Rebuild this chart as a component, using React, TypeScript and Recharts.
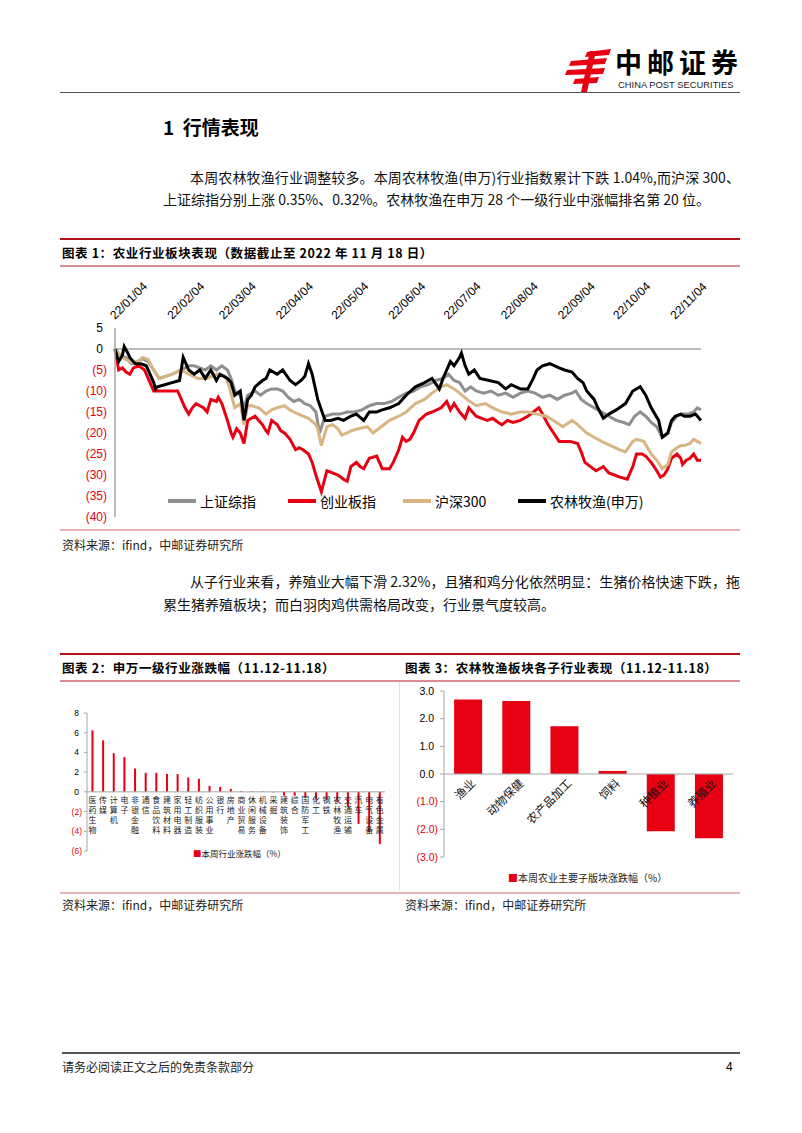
import React from "react"
import {
  LineChart,
  Line,
  XAxis,
  YAxis,
  ReferenceLine,
  BarChart,
  Bar,
  LabelList,
} from "recharts"

const RED = "#e60012"
const GRAY = "#8f8f8f"
const TAN = "#d9b584"
const AXIS = "#a6a6a6"
const SANS = "'Liberation Sans', Arial, sans-serif"
const CJK = "'Noto Sans CJK SC', sans-serif"

// ---- 图表1: 农业行业板块表现 ----
const DATE_TICKS = [
  "22/01/04", "22/02/04", "22/03/04", "22/04/04", "22/05/04", "22/06/04",
  "22/07/04", "22/08/04", "22/09/04", "22/10/04", "22/11/04",
]
const LAST_DAY = "22/11/18"
const Y1_TICKS = [5, 0, -5, -10, -15, -20, -25, -30, -35, -40]
const SERIES_NAMES = ["上证综指", "创业板指", "沪深300", "农林牧渔(申万)"]
const SERIES_COLORS = [GRAY, RED, TAN, "#000000"]

// [距 22/01/04 天数, 累计涨跌幅 %]
const SH_COMPOSITE: [number, number][] = [
  [0, 0], [3, -1.5], [6, -2], [9, -3.5], [12, -3], [15, -2.3], [18, -3], [21, -5], [24, -7],
  [31, -6], [36, -5], [40, -4], [43, -4], [46, -4.5], [49, -5], [52, -4], [55, -5], [58, -4],
  [61, -5], [63, -7], [65, -10], [68, -11], [70, -14], [72, -11], [76, -10], [79, -11],
  [82, -10], [85, -9.5], [88, -9.5], [91, -10], [94, -11.5], [97, -12.5], [100, -12],
  [103, -13], [106, -13.5], [109, -15], [111, -20], [114, -16], [118, -15.5], [122, -15.5],
  [126, -15], [130, -15], [134, -14.5], [138, -13.5], [142, -13], [146, -13], [150, -12.5],
  [154, -11.5], [158, -10.5], [162, -10], [166, -9], [170, -8.5], [174, -7.5], [178, -7],
  [181, -6], [184, -7.5], [187, -8], [190, -10], [193, -9], [196, -10], [200, -10.5],
  [204, -10], [208, -11], [212, -10.5], [216, -11.5], [220, -10.5], [224, -10], [228, -10.5],
  [232, -11.5], [236, -11], [240, -12], [244, -11], [248, -10.5], [250, -10], [253, -12],
  [256, -13], [260, -14], [264, -15], [268, -16], [272, -17], [276, -17.5], [279, -18],
  [282, -16], [285, -15], [288, -16], [291, -17.5], [294, -18.5], [297, -21], [300, -20],
  [302, -17.5], [305, -16], [308, -15.5], [311, -15.5], [314, -15], [316, -14], [318, -14.5],
]
const CHINEXT: [number, number][] = [
  [0, 0], [2, -5], [4, -4.5], [6, -5.5], [8, -6], [10, -4.5], [13, -4], [16, -5], [19, -8],
  [21, -10], [25, -10], [30, -10], [34, -10], [36, -12], [38, -14], [40, -15.5], [42, -14],
  [44, -13], [46, -13.5], [48, -14], [50, -15], [52, -12], [55, -12.5], [56, -11.5], [58, -13],
  [61, -17], [63, -20], [64, -21], [66, -19], [68, -20], [70, -22.5], [72, -17], [74, -16.5],
  [76, -16], [78, -17], [80, -18], [82, -19.5], [83, -20], [85, -17], [88, -18], [90, -19.5],
  [92, -20], [95, -21.5], [98, -24], [100, -23.5], [102, -24], [105, -25], [107, -27],
  [109, -30], [112, -34], [115, -29], [118, -29.5], [121, -30], [124, -31], [126, -31.5],
  [128, -28], [131, -27], [133, -28], [135, -28.5], [138, -26], [142, -25.5], [145, -28.5],
  [149, -28.5], [151, -27], [154, -24], [156, -21], [158, -22], [160, -21.5], [162, -20],
  [165, -17], [169, -15.5], [172, -15], [177, -14], [180, -12.5], [182, -14.5], [184, -13],
  [187, -15], [190, -16.5], [192, -14], [196, -16], [199, -16.5], [202, -17], [205, -16.5],
  [208, -17.5], [210, -18], [213, -17], [216, -17.5], [220, -17], [224, -16], [227, -15],
  [230, -14], [232, -15.5], [235, -18], [238, -20], [241, -22], [244, -22], [247, -22],
  [251, -22.5], [253, -24.5], [255, -27], [258, -28], [261, -29], [263, -28.5], [265, -28],
  [268, -29.5], [271, -30], [274, -30.5], [278, -31], [281, -28], [283, -25], [286, -25],
  [288, -25.5], [291, -27], [294, -29], [296, -30.5], [298, -30], [300, -28.5], [302, -26],
  [305, -25], [307, -26], [308, -27.5], [310, -26.5], [312, -26], [314, -25], [316, -26.5],
  [318, -26.5],
]
const CSI300: [number, number][] = [
  [0, 0], [4, -2], [8, -3], [11, -3.5], [15, -2], [18, -2.5], [21, -5], [24, -7], [31, -6],
  [36, -5], [40, -6], [45, -7], [50, -7], [55, -6], [60, -6.5], [62, -9], [65, -14], [68, -13],
  [70, -18], [72, -13.5], [74, -13.5], [78, -14], [82, -15.5], [85, -14.5], [88, -14],
  [92, -13.5], [95, -14.5], [97, -15], [102, -16], [105, -16.5], [109, -18], [110, -19],
  [112, -23], [115, -18.5], [118, -18], [121, -19], [123, -20.5], [126, -20], [128, -19.5],
  [132, -19], [137, -18.5], [140, -20], [143, -19], [149, -17], [154, -16], [158, -15],
  [163, -13], [168, -12], [172, -10.5], [177, -9], [180, -8.5], [184, -9.5], [187, -10.5],
  [191, -12], [196, -13.5], [201, -13], [205, -14], [210, -15], [215, -15.5], [220, -15],
  [224, -15], [229, -15.5], [234, -16], [238, -17], [243, -18.5], [248, -17], [251, -18],
  [256, -20], [260, -21], [264, -22], [269, -23], [274, -24], [277, -24.5], [281, -22],
  [283, -21.5], [287, -22], [291, -25], [294, -26.5], [297, -28.5], [300, -27.5], [302, -24.5],
  [305, -23.5], [307, -23], [309, -23], [312, -22.5], [314, -21.5], [316, -22], [318, -22.5],
]
const AGRI_SW: [number, number][] = [
  [0, 0], [2, -3], [4, -1.5], [5, 0.6], [7, -1], [8, -2], [11, -3.5], [14, -3.5], [17, -4],
  [19, -6], [21, -8], [22, -9.5], [23, -9], [27, -8.5], [31, -8], [35, -7.5], [37, -2],
  [40, -5], [43, -6], [46, -5], [49, -7], [52, -5], [55, -7.5], [57, -6], [61, -7], [63, -8],
  [65, -11], [68, -10], [70, -17], [72, -12], [74, -11], [76, -9], [80, -7.5], [82, -7],
  [84, -5], [88, -6], [91, -5], [95, -7.5], [98, -8.5], [101, -7.5], [103, -6.5], [105, -3.5],
  [107, -6], [110, -12], [114, -17], [117, -17], [121, -16.5], [124, -17], [128, -16],
  [131, -15.5], [135, -17], [138, -15], [142, -15], [145, -14.5], [149, -14], [154, -13],
  [158, -11], [163, -9], [168, -8], [172, -7], [176, -9.5], [178, -7], [180, -5], [182, -3],
  [184, -4], [187, -2], [188, -1], [190, -4], [192, -6], [195, -5], [198, -7], [203, -7.5],
  [208, -8], [212, -9.5], [215, -8.5], [220, -9.5], [224, -9.5], [227, -7], [229, -5],
  [232, -4], [236, -3.5], [241, -4.5], [244, -5], [248, -5.5], [251, -7], [254, -8],
  [256, -10], [260, -12], [262, -14], [265, -16.5], [268, -15.5], [272, -14.5], [277, -13],
  [281, -10], [285, -9], [288, -11], [291, -14], [295, -17], [297, -21], [300, -20],
  [302, -17], [304, -16], [307, -15.5], [309, -16], [312, -16], [315, -15.5], [318, -17],
]
const SERIES = [SH_COMPOSITE, CHINEXT, CSI300, AGRI_SW]

// ---- 图表2: 申万一级行业涨跌幅 ----
const SECTORS = [
  "医药生物", "传媒", "计算机", "电子", "非银金融", "通信", "食品饮料", "建筑材料",
  "家用电器", "轻工制造", "纺织服装", "公用事业", "银行", "房地产", "商业贸易", "休闲服务",
  "机械设备", "采掘", "建筑装饰", "综合", "国防军工", "化工", "钢铁", "农林牧渔",
  "交通运输", "汽车", "电气设备", "有色金属",
]
const SECTOR_CHG = [
  6.24, 5.22, 3.93, 3.53, 2.37, 1.93, 1.93, 1.83, 1.8, 1.46, 1.32, 0.61, 0.5, 0.3, 0.08,
  0.06, 0.05, -0.05, -0.37, -0.4, -0.55, -0.78, -0.8, -1.04, -1.55, -3.25, -4.1, -5.3,
]
const Y2_TICKS = [8, 6, 4, 2, 0, -2, -4, -6]

// ---- 图表3: 农林牧渔子行业表现 ----
const SUB_SECTORS = ["渔业", "动物保健", "农产品加工", "饲料", "种植业", "养殖业"]
const SUB_CHG = [2.69, 2.64, 1.73, 0.11, -2.07, -2.32]
const Y3_TICKS = [3, 2, 1, 0, -1, -2, -3]

const dayOf = (s: string) => {
  const [yy, mm, dd] = s.split("/").map(Number)
  return Math.round((Date.UTC(2000 + yy, mm - 1, dd) - Date.UTC(2022, 0, 4)) / 86400000)
}
const TICK_DAYS = DATE_TICKS.map(dayOf)

const DateTick = ({ x, y, payload }: any) => {
  const i = TICK_DAYS.indexOf(payload.value)
  return (
    <text x={x} y={y} transform={`rotate(-45 ${x} ${y})`} textAnchor="start"
      fontSize={12} fontFamily={SANS} fill="#000">
      {DATE_TICKS[i]}
    </text>
  )
}

const parenTick = (digits: number, size: number, padR: number) => ({ x, y, payload }: any) => {
  const v = payload.value
  const neg = v < 0
  const txt = neg ? `(${(-v).toFixed(digits)})` : v.toFixed(digits)
  return (
    <text x={neg ? x : x - padR} y={y} dy={size * 0.35} textAnchor="end" fontSize={size}
      fontFamily={SANS} fill={neg ? RED : "#000"}>
      {txt}
    </text>
  )
}
const Y1Tick = parenTick(0, 12, 4)
const Y2Tick = parenTick(0, 8.5, 3)
const Y3Tick = parenTick(1, 10.5, 4)

const zeroOf = (p: any, v: number) => {
  const top = Math.min(p.y, p.y + p.height)
  const bot = Math.max(p.y, p.y + p.height)
  return v >= 0 ? bot : top
}

const SectorLabel = (p: any) => {
  const v = SECTOR_CHG[p.index]
  const y0 = zeroOf(p, v)
  const cx = p.x + p.width / 2
  return (
    <g>
      {Array.from(SECTORS[p.index]).map((c, i) => (
        <text key={i} x={cx} y={y0 + 11 + i * 10} textAnchor="middle" fontSize={8}
          fontFamily={CJK} fill="#222">
          {c}
        </text>
      ))}
    </g>
  )
}

const SubLabel = (p: any) => {
  const v = SUB_CHG[p.index]
  const y0 = zeroOf(p, v)
  const ax = p.x + p.width / 2 + 8
  const ay = y0 + 10
  return (
    <text x={ax} y={ay} transform={`rotate(-45 ${ax} ${ay})`} textAnchor="end" fontSize={11.5}
      fontFamily={CJK} fill="#111">
      {SUB_SECTORS[p.index]}
    </text>
  )
}

const Logo = () => (
  <div style={{ position: "absolute", left: 563, top: 44 }}>
    <svg width={50} height={50} style={{ position: "absolute", left: 0, top: 2 }}>
      <g fill="#e60012">
        <polygon points="24,6 48,3 46,9 22,11" />
        <polygon points="8,15 44,12 42,18 6,20" />
        <polygon points="4,24 42,22 40,28 2,29" />
        <polygon points="12,33 36,31 34,37 10,38" />
        <polygon points="27,5 33,5 24,46 18,46" />
      </g>
    </svg>
    <div style={{ position: "absolute", left: 52, top: 2, fontSize: 27, fontWeight: 700,
      letterSpacing: 5, whiteSpace: "nowrap", fontFamily: CJK, lineHeight: "32px" }}>中邮证券</div>
    <div style={{ position: "absolute", left: 55, top: 35, fontSize: 9.4, whiteSpace: "nowrap",
      fontFamily: SANS, lineHeight: "12px", color: "#222" }}>CHINA POST SECURITIES</div>
  </div>
)

const abs = (left: number, top: number, extra: React.CSSProperties = {}): React.CSSProperties => ({
  position: "absolute", left, top, whiteSpace: "nowrap", ...extra,
})

const Rule = ({ top, color, h = 2, left = 60, width = 680 }: any) => (
  <div style={{ position: "absolute", left, top, width, height: h, background: color }} />
)

const Justified = ({ left, top, width, text }: any) => (
  <div style={{ position: "absolute", left, top, width, fontSize: 14, lineHeight: "20px",
    textAlign: "justify", textAlignLast: "justify", color: "#111" }}>{text}</div>
)

const legendItem = (name: string, color: string, left: number) => (
  <div key={name} style={abs(left, 492, { display: "flex", alignItems: "center", fontSize: 14,
    lineHeight: "18px", fontFamily: CJK })}>
    <span style={{ display: "inline-block", width: 28, height: 4, background: color, marginRight: 4 }} />
    {name}
  </div>
)

export default function App() {
  const lineData = SERIES.map((s) => s.map(([d, v]) => ({ d, v })))
  const sectorData = SECTORS.map((name, i) => ({ name, v: SECTOR_CHG[i] }))
  const subData = SUB_SECTORS.map((name, i) => ({ name, v: SUB_CHG[i] }))
  const titleStyle = { fontSize: 12.5, fontWeight: 700, lineHeight: "16px", fontFamily: CJK, letterSpacing: 0.6 }
  const srcStyle = { fontSize: 12, lineHeight: "16px", color: "#222", fontFamily: CJK }

  return (
    <div style={{ position: "absolute", left: 0, top: 0, width: 802, height: 1133,
      background: "#fff", overflow: "hidden", fontFamily: CJK, color: "#000" }}>
      <Logo />
      <Rule top={92} color="#555" h={1} />

      <div style={abs(163, 114, { fontSize: 19, fontWeight: 700, lineHeight: "26px" })}>1&nbsp;&nbsp;行情表现</div>
      <Justified left={190} top={167} width={550}
        text="本周农林牧渔行业调整较多。本周农林牧渔(申万)行业指数累计下跌 1.04%,而沪深 300、" />
      <div style={abs(163, 189, { fontSize: 14, lineHeight: "20px", color: "#111" })}>
        上证综指分别上涨 0.35%、0.32%。农林牧渔在申万 28 个一级行业中涨幅排名第 20 位。
      </div>

      <Rule top={238} color="#b3121b" />
      <div style={abs(62, 245, titleStyle)}>图表 1：农业行业板块表现（数据截止至 2022 年 11 月 18 日）</div>
      <Rule top={265} color="#d98c91" />

      <div style={{ position: "absolute", left: 60, top: 267 }}>
        <LineChart width={680} height={262} margin={{ top: 11, right: 39, bottom: 12, left: 10 }}>
          <XAxis dataKey="d" type="number" orientation="top" domain={[0, dayOf(LAST_DAY)]}
            ticks={TICK_DAYS} interval={0} tick={<DateTick />} axisLine={false} tickLine={false}
            height={50} allowDuplicatedCategory={false} />
          <YAxis type="number" domain={[-40, 5]} ticks={Y1_TICKS} interval={0} width={45}
            tick={<Y1Tick />} axisLine={{ stroke: AXIS, strokeWidth: 1.5 }} tickLine={false} />
          <ReferenceLine y={0} stroke={AXIS} strokeWidth={1.5} />
          {lineData.map((data, i) => (
            <Line key={SERIES_NAMES[i]} data={data} dataKey="v" name={SERIES_NAMES[i]}
              type="linear" stroke={SERIES_COLORS[i]} strokeWidth={3} dot={false}
              isAnimationActive={false} />
          ))}
        </LineChart>
      </div>
      {legendItem(SERIES_NAMES[0], SERIES_COLORS[0], 168)}
      {legendItem(SERIES_NAMES[1], SERIES_COLORS[1], 288)}
      {legendItem(SERIES_NAMES[2], SERIES_COLORS[2], 403)}
      {legendItem(SERIES_NAMES[3], SERIES_COLORS[3], 518)}

      <Rule top={529} color="#e3b3b6" h={1.5} />
      <div style={abs(62, 537, srcStyle)}>资料来源：ifind，中邮证券研究所</div>

      <Justified left={190} top={571} width={550}
        text="从子行业来看，养殖业大幅下滑 2.32%，且猪和鸡分化依然明显：生猪价格快速下跌，拖" />
      <div style={abs(163, 594, { fontSize: 14, lineHeight: "20px", color: "#111" })}>
        累生猪养殖板块；而白羽肉鸡供需格局改变，行业景气度较高。
      </div>

      <Rule top={653} color="#b3121b" />
      <div style={abs(62, 660, titleStyle)}>图表 2：申万一级行业涨跌幅（11.12-11.18）</div>
      <div style={abs(405, 660, titleStyle)}>图表 3：农林牧渔板块各子行业表现（11.12-11.18）</div>
      <Rule top={680} color="#d98c91" />
      <div style={{ position: "absolute", left: 399, top: 682, width: 1, height: 209, background: "#e2e2e2" }} />

      <div style={{ position: "absolute", left: 60, top: 703 }}>
        <BarChart width={335} height={160} data={sectorData}
          margin={{ top: 10, right: 10, bottom: 12, left: 5 }} barCategoryGap="42%">
          <XAxis dataKey="name" hide />
          <YAxis domain={[-6, 8]} ticks={Y2_TICKS} interval={0} width={22} tick={<Y2Tick />}
            axisLine={{ stroke: AXIS }} tickLine={{ stroke: AXIS }} tickSize={3} />
          <ReferenceLine y={0} stroke={AXIS} />
          <Bar dataKey="v" fill={RED} isAnimationActive={false}>
            <LabelList dataKey="name" content={<SectorLabel />} />
          </Bar>
        </BarChart>
      </div>
      <div style={abs(193, 847, { fontSize: 8.5, lineHeight: "12px", color: "#222" })}>
        <span style={{ color: RED }}>■</span>本周行业涨跌幅（%）
      </div>

      <div style={{ position: "absolute", left: 400, top: 683 }}>
        <BarChart width={340} height={190} data={subData}
          margin={{ top: 8, right: 7, bottom: 16, left: 4 }} barCategoryGap="21%">
          <XAxis dataKey="name" hide />
          <YAxis domain={[-3, 3]} ticks={Y3_TICKS} interval={0} width={40} tick={<Y3Tick />}
            axisLine={{ stroke: AXIS }} tickLine={{ stroke: AXIS }} tickSize={4} />
          <ReferenceLine y={0} stroke={AXIS} />
          <Bar dataKey="v" fill={RED} isAnimationActive={false}>
            <LabelList dataKey="name" content={<SubLabel />} />
          </Bar>
        </BarChart>
      </div>
      <div style={abs(508, 871, { fontSize: 10, lineHeight: "14px", color: "#222" })}>
        <span style={{ color: RED }}>■</span>本周农业主要子版块涨跌幅（%）
      </div>

      <Rule top={892} color="#e3b3b6" h={1.5} />
      <div style={abs(62, 897, srcStyle)}>资料来源：ifind，中邮证券研究所</div>
      <div style={abs(405, 897, srcStyle)}>资料来源：ifind，中邮证券研究所</div>

      <Rule top={1052} color="#555" h={2} left={62} width={678} />
      <div style={abs(62, 1059, srcStyle)}>请务必阅读正文之后的免责条款部分</div>
      <div style={abs(726, 1059, { fontSize: 12, lineHeight: "16px", fontFamily: SANS })}>4</div>
    </div>
  )
}
